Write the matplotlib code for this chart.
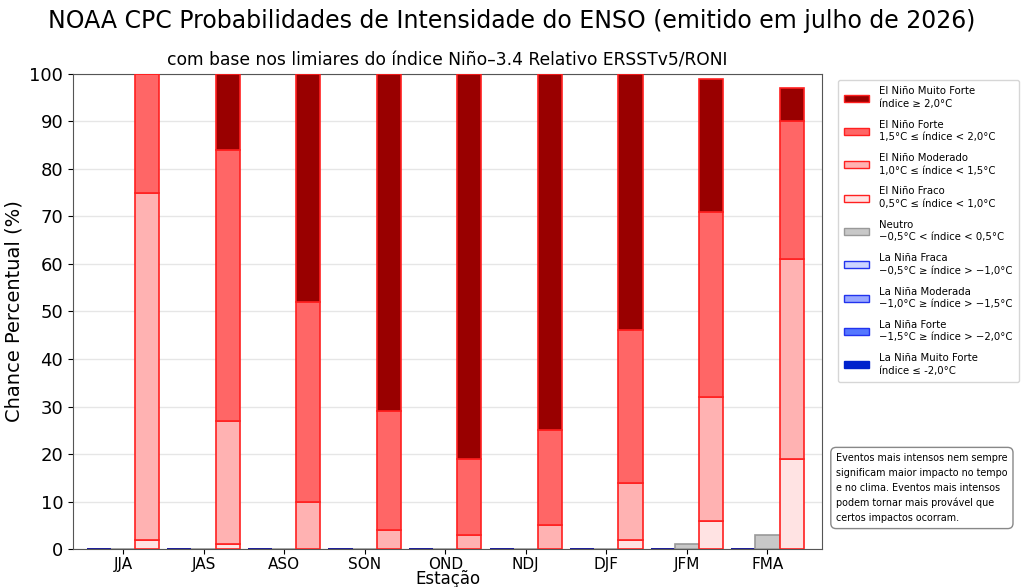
import matplotlib
matplotlib.use("Agg")
import matplotlib.pyplot as plt
from matplotlib.patches import Patch
import numpy as np

seasons = ["JJA", "JAS", "ASO", "SON", "OND", "NDJ", "DJF", "JFM", "FMA"]

# El Niño categories (%)
en_fraco = [2, 1, 0, 0, 0, 0, 2, 6, 19]
en_moderado = [73, 26, 10, 4, 3, 5, 12, 26, 42]
en_forte = [25, 57, 42, 25, 16, 20, 32, 39, 29]
en_muito_forte = [0, 16, 48, 71, 81, 75, 54, 28, 7]

# Neutral (%)
neutro = [0, 0, 0, 0, 0, 0, 0, 1, 3]

# La Niña categories (%)
ln_fraca = [0, 0, 0, 0, 0, 0, 0, 0, 0]
ln_moderada = [0, 0, 0, 0, 0, 0, 0, 0, 0]
ln_forte = [0, 0, 0, 0, 0, 0, 0, 0, 0]
ln_muito_forte = [0, 0, 0, 0, 0, 0, 0, 0, 0]

labels_en = [
    "El Niño Muito Forte\níndice ≥ 2,0°C",
    "El Niño Forte\n1,5°C ≤ índice < 2,0°C",
    "El Niño Moderado\n1,0°C ≤ índice < 1,5°C",
    "El Niño Fraco\n0,5°C ≤ índice < 1,0°C",
]
label_neutro = "Neutro\n−0,5°C < índice < 0,5°C"
labels_ln = [
    "La Niña Fraca\n−0,5°C ≥ índice > −1,0°C",
    "La Niña Moderada\n−1,0°C ≥ índice > −1,5°C",
    "La Niña Forte\n−1,5°C ≥ índice > −2,0°C",
    "La Niña Muito Forte\níndice ≤ -2,0°C",
]
note = ("Eventos mais intensos nem sempre\nsignificam maior impacto no tempo\n"
        "e no clima. Eventos mais intensos\npodem tornar mais provável que\n"
        "certos impactos ocorram.")

fig = plt.figure(figsize=(10.24, 5.87), dpi=100)
ax = fig.add_axes([0.0713, 0.0647, 0.7317, 0.8093])

x = np.arange(len(seasons))
w = 0.3

c_en = {"fraco": "#FFE3E3", "mod": "#FFB2B2", "forte": "#FF6666", "mf": "#990000"}
c_ln = {"fraca": "#CCD4FF", "mod": "#99A8FF", "forte": "#5577FF", "mf": "#0022CC"}

# La Niña stack (left)
b = np.zeros(len(seasons))
for vals, col in [(ln_fraca, c_ln["fraca"]),
                  (ln_moderada, c_ln["mod"]),
                  (ln_forte, c_ln["forte"]),
                  (ln_muito_forte, c_ln["mf"])]:
    ax.bar(x - w, vals, w, bottom=b, color=col, edgecolor="#1f1f99", linewidth=1.2, zorder=3)
    b += np.array(vals)

# Neutral (center)
ax.bar(x, neutro, w, color="#C8C8C8", edgecolor="#999999", linewidth=1.2, zorder=3)

# El Niño stack (right)
b = np.zeros(len(seasons))
for vals, col in [(en_fraco, c_en["fraco"]),
                  (en_moderado, c_en["mod"]),
                  (en_forte, c_en["forte"]),
                  (en_muito_forte, c_en["mf"])]:
    ax.bar(x + w, vals, w, bottom=b, color=col, edgecolor="#FF2020", linewidth=1.2, zorder=3)
    b += np.array(vals)

ax.set_xlim(-0.62, 8.68)
ax.set_ylim(0, 100)
ax.set_yticks(np.arange(0, 101, 10))
ax.set_xticks(x)
ax.set_xticklabels(seasons, fontsize=11)
ax.tick_params(axis="y", labelsize=13)
ax.tick_params(axis="x", pad=2)
ax.yaxis.grid(True, color="#e6e6e6", linewidth=1, zorder=0)
ax.set_axisbelow(True)
for s in ax.spines.values():
    s.set_color("#555555")

ax.set_ylabel("Chance Percentual (%)", fontsize=14)
ax.set_xlabel("Estação", fontsize=12, labelpad=-1)
ax.set_title("com base nos limiares do índice Niño–3.4 Relativo ERSSTv5/RONI", fontsize=12.3, pad=6)
fig.suptitle("NOAA CPC Probabilidades de Intensidade do ENSO (emitido em julho de 2026)", fontsize=17, y=0.985)

leg_patches = [
    Patch(facecolor=c_en["mf"], edgecolor="#FF2020", label=labels_en[0]),
    Patch(facecolor=c_en["forte"], edgecolor="#FF2020", label=labels_en[1]),
    Patch(facecolor=c_en["mod"], edgecolor="#FF2020", label=labels_en[2]),
    Patch(facecolor=c_en["fraco"], edgecolor="#FF2020", label=labels_en[3]),
    Patch(facecolor="#C8C8C8", edgecolor="#999999", label=label_neutro),
    Patch(facecolor=c_ln["fraca"], edgecolor="#2233EE", label=labels_ln[0]),
    Patch(facecolor=c_ln["mod"], edgecolor="#2233EE", label=labels_ln[1]),
    Patch(facecolor=c_ln["forte"], edgecolor="#2233EE", label=labels_ln[2]),
    Patch(facecolor=c_ln["mf"], edgecolor="#0022CC", label=labels_ln[3]),
]
leg = fig.legend(handles=leg_patches, loc="upper left", bbox_to_anchor=(0.818, 0.864),
                 borderaxespad=0, fontsize=7.3,
                 frameon=True, handlelength=2.45, handleheight=0.7, handletextpad=0.95,
                 labelspacing=1.08, borderpad=0.65, edgecolor="#cccccc")
for t in leg.get_texts():
    t.set_linespacing(1.3)

fig.text(0.8165, 0.1085, note,
         fontsize=6.9, ha="left", va="bottom", linespacing=1.62,
         bbox=dict(boxstyle="round,pad=0.55", facecolor="white", edgecolor="#888888"))

fig.savefig("out.png", dpi=100)
